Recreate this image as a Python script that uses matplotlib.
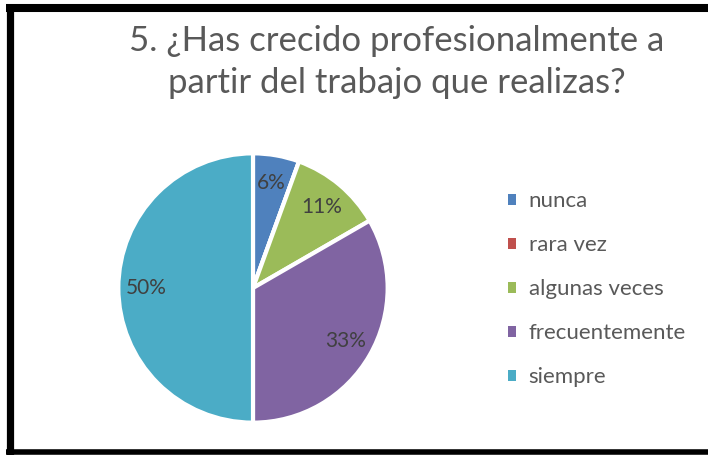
import matplotlib.pyplot as plt
from matplotlib.lines import Line2D
from matplotlib.patches import Patch

categories = ['nunca', 'rara vez', 'algunas veces', 'frecuentemente', 'siempre']
counts = [1, 0, 2, 6, 9]
colors = ['#4F81BD', '#C0504D', '#9BBB59', '#8064A2', '#4BACC6']
title = "5. ¿Has crecido profesionalmente a\npartir del trabajo que realizas?"

plt.rcParams['font.family'] = ['Lato', 'DejaVu Sans']

fig = plt.figure(figsize=(7.08, 4.55), dpi=100)

# black frame (left, top, bottom)
fig.add_artist(Line2D([9.5 / 708, 9.5 / 708], [0, 1 - 4 / 455], color='black', lw=5.2,
                      transform=fig.transFigure, solid_capstyle='butt'))
fig.add_artist(Line2D([6 / 708, 1], [1 - 8 / 455, 1 - 8 / 455], color='black', lw=5.8,
                      transform=fig.transFigure, solid_capstyle='butt'))
fig.add_artist(Line2D([6 / 708, 1], [1 - 452 / 455, 1 - 452 / 455], color='black', lw=4,
                      transform=fig.transFigure, solid_capstyle='butt'))

ax = fig.add_axes([117 / 708, 31 / 455, 272 / 708, 272 / 455])


def pct(p):
    return '' if p < 0.5 else f'{p:.0f}%'


wedges, texts, autotexts = ax.pie(counts, colors=colors, startangle=90, counterclock=False,
                                  autopct=pct, pctdistance=0.79,
                                  wedgeprops=dict(edgecolor='white', linewidth=3),
                                  textprops=dict(color='#404040', fontsize=15))
ax.set_xlim(-1.01, 1.01)
ax.set_ylim(-1.01, 1.01)

fig.text(397 / 708, 1 - 62 / 455, title, ha='center', va='center', fontsize=25,
         color='#595959', linespacing=1.42)

handles = [Patch(facecolor=c, edgecolor='none') for c in colors]
fig.legend(handles, categories, loc='upper left', bbox_to_anchor=(488 / 708, 1 - 171 / 455),
           frameon=False, fontsize=16, labelcolor='#595959', handlelength=0.38,
           handleheight=0.38, handletextpad=0.55, labelspacing=1.08)

fig.savefig('out.png', dpi=100)
